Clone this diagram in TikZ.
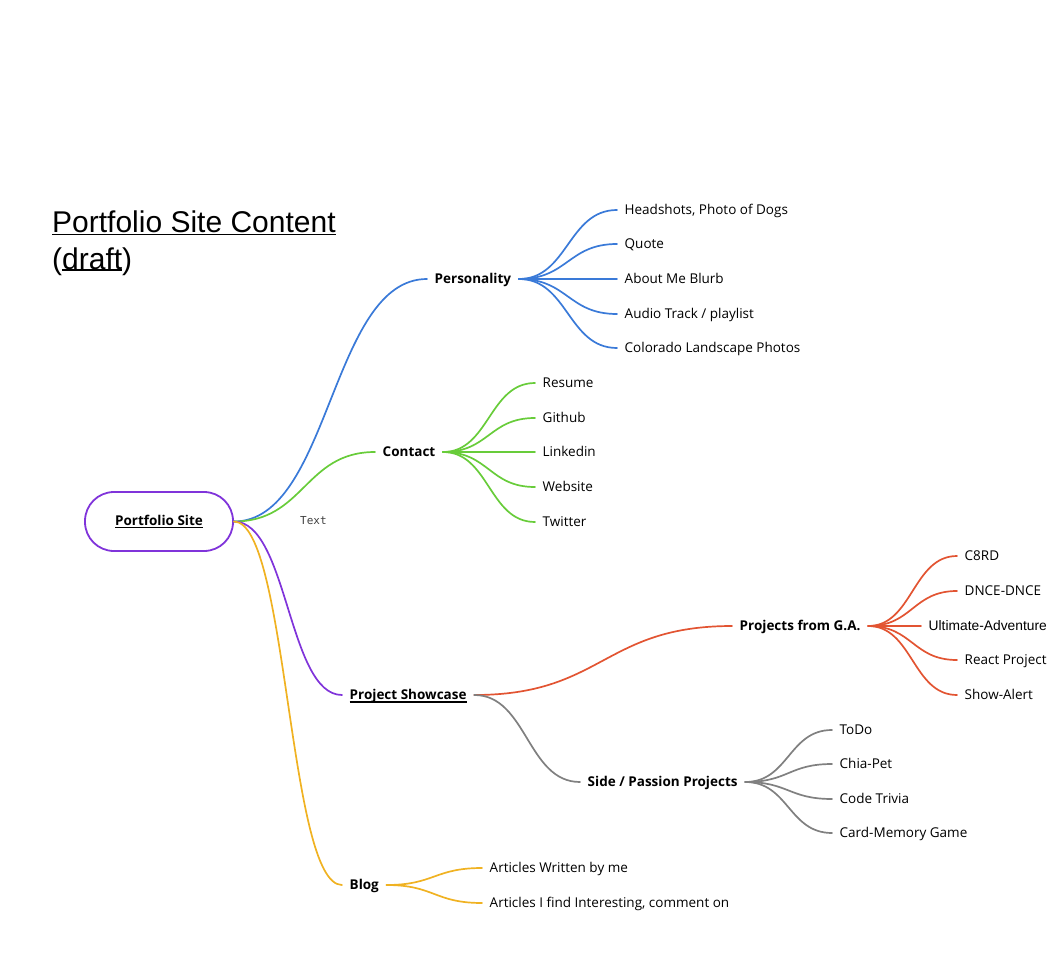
\documentclass[tikz,border=0pt]{standalone}
\usepackage{fontspec}
\setmainfont{Open Sans}
\newfontfamily\titlefont{Liberation Sans}
\newfontfamily\monofont{DejaVu Sans Mono}
\usetikzlibrary{calc}
\definecolor{cblue}{RGB}{58,122,216}
\definecolor{cgreen}{RGB}{104,204,58}
\definecolor{cpurple}{RGB}{128,52,218}
\definecolor{cred}{RGB}{226,84,50}
\definecolor{cgray}{RGB}{128,128,128}
\definecolor{corange}{RGB}{240,178,34}
\newcommand\myul[3]{\setbox0\hbox{#3}\rlap{\rule[-#2]{\wd0}{#1}}\box0}
\tikzset{
  x=1pt, y=-1pt,
  every node/.style={font=\fontsize{13.5}{16}\selectfont},
  item/.style={anchor=west, inner xsep=7.5pt, inner ysep=0pt, text height=9.7pt, text depth=0pt},
  head/.style={item, font=\fontsize{13.5}{16}\selectfont\bfseries},
  conn/.style={line width=1.7pt, line cap=round,
    to path={let \p1=(\tikztostart), \p2=(\tikztotarget) in
      .. controls ({(\x1+\x2)/2},\y1) and ({(\x1+\x2)/2},\y2) .. (\tikztotarget)}},
}
\begin{document}
\begin{tikzpicture}
\useasboundingbox (0,0) rectangle (1050,955);
% title
\node[anchor=base west, inner sep=0pt, font=\titlefont\fontsize{30}{37}\selectfont] (title1) at (52,232.5) {\myul{1.8pt}{3pt}{Portfolio Site Content}};
\node[anchor=base west, inner sep=0pt, font=\titlefont\fontsize{30}{37}\selectfont] (title2) at (52,269) {(\myul{1.8pt}{2.2pt}{draft})};
% root
\node[draw=cpurple, line width=1.8pt, rounded corners=29pt, minimum width=148pt, minimum height=59pt, font=\fontsize{13.5}{16}\selectfont\bfseries, inner sep=0pt] (root) at (159,521.5) {\myul{1.2pt}{2.8pt}{Portfolio Site}};
\node[anchor=base west, inner sep=0pt, font=\monofont\fontsize{11}{13}\selectfont, text=black!75] (txt) at (300,524) {Text};
% level 1
\node[head] (pers) at (427,279) {Personality};
\node[head] (cont) at (375,452) {Contact};
\node[head] (show) at (342,695) {\myul{1.2pt}{2.8pt}{Project Showcase}};
\node[head] (blog) at (342,885) {Blog};
% level 2
\node[head] (ga) at (732,626) {Projects from G.A.};
\node[head] (side) at (580,782) {Side / Passion Projects};
% personality leaves
\node[item] (p1) at (617,210) {Headshots, Photo of Dogs};
\node[item] (p2) at (617,244) {Quote};
\node[item] (p3) at (617,279) {About Me Blurb};
\node[item] (p4) at (617,314) {Audio Track / playlist};
\node[item] (p5) at (617,348) {Colorado Landscape Photos};
% contact leaves
\node[item] (c1) at (535,383) {Resume};
\node[item] (c2) at (535,418) {Github};
\node[item] (c3) at (535,452) {Linkedin};
\node[item] (c4) at (535,487) {Website};
\node[item] (c5) at (535,522) {Twitter};
% G.A. leaves
\node[item] (g1) at (957,556) {C8RD};
\node[item] (g2) at (957,591) {DNCE-DNCE};
\node[item, font=\titlefont\fontsize{13.8}{16}\selectfont] (g3) at (921,626) {Ultimate-Adventure};
\node[item] (g4) at (957,660) {React Project};
\node[item] (g5) at (957,695) {Show-Alert};
% side leaves
\node[item] (s1) at (832,730) {ToDo};
\node[item] (s2) at (832,764) {Chia-Pet};
\node[item] (s3) at (832,799) {Code Trivia};
\node[item] (s4) at (832,833) {Card-Memory Game};
% blog leaves
\node[item] (b1) at (482,868) {Articles Written by me};
\node[item] (b2) at (482,903) {Articles I find Interesting, comment on};
% connectors
\draw[conn, cblue] (root.east) to (pers.west);
\draw[conn, cgreen] (root.east) to (cont.west);
\draw[conn, cpurple] (root.east) to (show.west);
\draw[conn, corange] (root.east) to (blog.west);
\foreach \leaf in {p1,p2,p3,p4,p5} \draw[conn, cblue] (pers.east) to (\leaf.west);
\foreach \leaf in {c1,c2,c3,c4,c5} \draw[conn, cgreen] (cont.east) to (\leaf.west);
\draw[conn, cred] (show.east) to (ga.west);
\draw[conn, cgray] (show.east) to (side.west);
\foreach \leaf in {g1,g2,g3,g4,g5} \draw[conn, cred] (ga.east) to (\leaf.west);
\foreach \leaf in {s1,s2,s3,s4} \draw[conn, cgray] (side.east) to (\leaf.west);
\foreach \leaf in {b1,b2} \draw[conn, corange] (blog.east) to (\leaf.west);
\end{tikzpicture}
\end{document}
